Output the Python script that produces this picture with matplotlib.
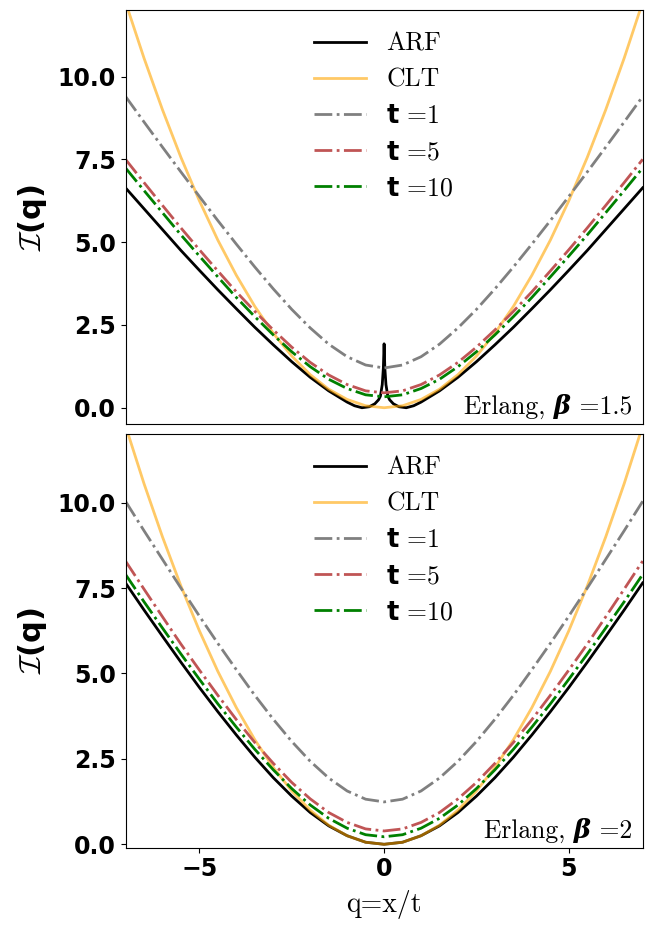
import numpy as np
import matplotlib.pyplot as plt

plt.rcParams["mathtext.fontset"] = "custom"
plt.rcParams["mathtext.rm"] = "cmr10"
plt.rcParams["mathtext.bf"] = "DejaVu Sans:bold"
plt.rcParams["axes.unicode_minus"] = True

# q >= 0 half of each curve (curves are symmetric in q)
q_half = [0, 0.5, 1, 1.5, 2, 2.5, 3, 3.5, 4, 4.5, 5, 5.5, 6, 6.5, 7]

# top panel: Erlang, beta = 1.5
q_arf_top = [0, 0.02, 0.05, 0.1, 0.15, 0.25, 0.4, 0.6, 0.8, 1.0, 1.5, 2, 2.5,
             3, 3.5, 4, 4.5, 5, 5.5, 6, 6.5, 7]
arf_top = [1.93, 1.2, 0.70, 0.35, 0.24, 0.12, 0.03, 0.0, 0.06, 0.17, 0.51, 0.92,
           1.39, 1.90, 2.43, 2.99, 3.56, 4.15, 4.75, 5.38, 6.01, 6.64]
clt_top = [0, 0.06, 0.25, 0.56, 1.0, 1.56, 2.25, 3.06, 4.0, 5.06, 6.25, 7.56,
           9.0, 10.56, 12.25]
t1_top = [1.20, 1.29, 1.54, 1.92, 2.41, 2.97, 3.59, 4.25, 4.94, 5.65, 6.38,
          7.12, 7.87, 8.63, 9.40]
t5_top = [0.45, 0.51, 0.70, 0.99, 1.37, 1.83, 2.35, 2.91, 3.50, 4.13, 4.77,
          5.43, 6.11, 6.80, 7.50]
t10_top = [0.33, 0.39, 0.58, 0.86, 1.24, 1.69, 2.20, 2.75, 3.33, 3.95, 4.58,
           5.22, 5.89, 6.56, 7.24]

# bottom panel: Erlang, beta = 2
arf_bot = [0, 0.06, 0.25, 0.54, 0.93, 1.41, 1.95, 2.55, 3.20, 3.88, 4.59,
           5.33, 6.09, 6.86, 7.65]
clt_bot = clt_top
t1_bot = [1.24, 1.32, 1.56, 1.94, 2.43, 3.01, 3.66, 4.36, 5.11, 5.88, 6.68,
          7.50, 8.34, 9.18, 10.04]
t5_bot = [0.39, 0.45, 0.64, 0.93, 1.33, 1.81, 2.37, 2.98, 3.65, 4.36, 5.10,
          5.86, 6.66, 7.47, 8.29]
t10_bot = [0.22, 0.28, 0.47, 0.76, 1.15, 1.63, 2.18, 2.78, 3.43, 4.11, 4.83,
           5.57, 6.33, 7.10, 7.90]


def mirror(q, v):
    q = np.asarray(q, float)
    v = np.asarray(v, float)
    return np.concatenate([-q[:0:-1], q]), np.concatenate([v[:0:-1], v])


fig = plt.figure(figsize=(6.5, 9.27), dpi=100)
W, H = 650, 927
ax1 = fig.add_axes([125.5 / W, 1 - 424.3 / H, (642.7 - 125.5) / W, (424.3 - 10.3) / H])
ax2 = fig.add_axes([125.5 / W, 1 - 847.7 / H, (642.7 - 125.5) / W, (847.7 - 434.3) / H])

panels = [
    (ax1, (q_arf_top, arf_top), clt_top, t1_top, t5_top, t10_top, "1.5", -0.5),
    (ax2, (q_half, arf_bot), clt_bot, t1_bot, t5_bot, t10_bot, "2", -0.1),
]

for ax, arf, clt, t1, t5, t10, beta, ymin in panels:
    ax.plot(*mirror(*arf), color="k", lw=2, label="ARF")
    ax.plot(*mirror(q_half, clt), color="orange", alpha=0.6, lw=2, label="CLT")
    ax.plot(*mirror(q_half, t1), "-.", color="grey", lw=2, label=r"$\mathbf{t}$ =1")
    ax.plot(*mirror(q_half, t5), "-.", color="#c05555", lw=2, label=r"$\mathbf{t}$ =5")
    ax.plot(*mirror(q_half, t10), "-.", color="g", lw=2, label=r"$\mathbf{t}$ =10")
    ax.set_xlim(-7, 7)
    ax.set_ylim(ymin, 12)
    ax.set_yticks([0, 2.5, 5, 7.5, 10])
    ax.set_xticks([-5, 0, 5])
    ax.tick_params(labelsize=17)
    for lab in ax.get_yticklabels() + ax.get_xticklabels():
        lab.set_fontweight("bold")
    ax.set_ylabel(r"$\mathcal{I}$(q)", fontsize=22, fontweight="bold",
                  math_fontfamily="cm", labelpad=6)
    ax.legend(loc="upper center", frameon=False, prop={"family": "cmr10", "size": 18.5},
              labelspacing=0.48, borderaxespad=0.45)
    # cmr10 for the words, DejaVu Serif bold italic picks up the beta
    ax.text(0.98, 0.012, "Erlang, \u03b2 =" + beta, transform=ax.transAxes,
            ha="right", va="bottom", fontsize=18.5,
            family=["cmr10", "DejaVu Serif"], style="italic", weight="bold")

ax1.tick_params(bottom=False, labelbottom=False)
ax2.set_xlabel("q=x/t", fontsize=20, family="cmr10", labelpad=6)

fig.savefig("out.png", dpi=100)
